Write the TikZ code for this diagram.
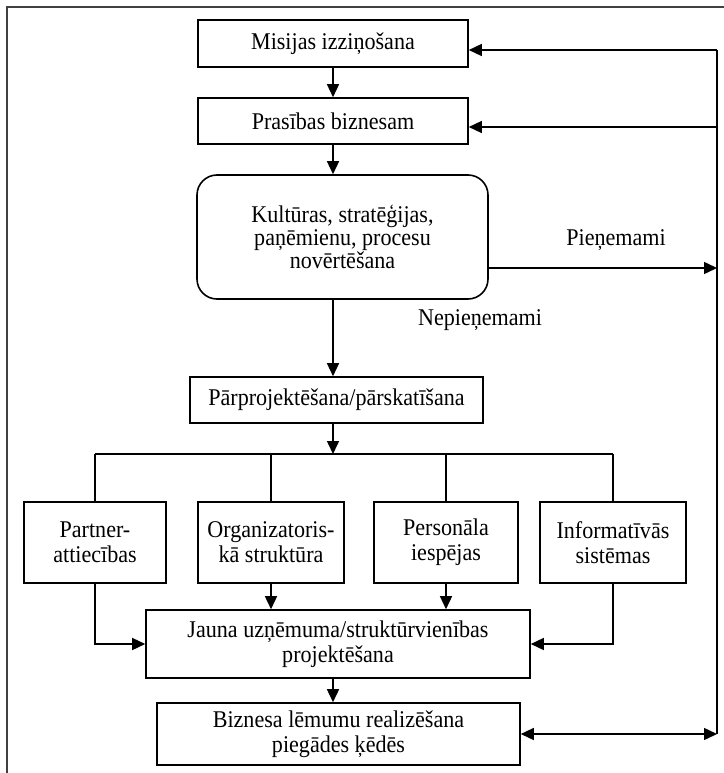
\documentclass[tikz,border=0pt]{standalone}
\usepackage{fontspec}
\setmainfont{Liberation Serif}[FakeStretch=0.92]
\usetikzlibrary{arrows.meta,positioning,calc}
\tikzset{
  box/.style={draw, line width=1.6pt, align=center, font=\fontsize{24}{25}\selectfont, inner sep=2pt, fill=white},
  rbox/.style={box, rounded corners=20pt, font=\fontsize{24}{23}\selectfont},
  wire/.style={line width=1.5pt},
  arr/.style={wire, -{Triangle[length=13pt,width=12pt]}},
  darr/.style={wire, {Triangle[length=13pt,width=12pt]}-{Triangle[length=13pt,width=12pt]}},
  note/.style={font=\fontsize{24}{23}\selectfont, align=center}}

\begin{document}
\begin{tikzpicture}[x=1pt, y=-1pt]
  \useasboundingbox (0,0) rectangle (723,773);
  % page frame, only left and top edges show
  \draw[line width=1.8pt, black!75] (7,790) -- (7,7) -- (740,7);

  % main column
  \node[box, minimum width=270, minimum height=47] (misija) at (333,43.5) {Misijas izziņošana};
  \node[box, minimum width=270, minimum height=46] (prasibas) at (333,121) {Prasības biznesam};
  \node[rbox, minimum width=291, minimum height=124] (vertesana) at (342.5,237) {Kultūras, stratēģijas,\\paņēmienu, procesu\\novērtēšana};
  \node[box, minimum width=293, minimum height=46] (parproj) at (336.5,400) {Pārprojektēšana/pārskatīšana};

  % four areas
  \node[box, minimum width=142, minimum height=81] (partner) at (95,542.5) {Partner-\\attiecības};
  \node[box, minimum width=146, minimum height=81] (organiz) at (271,542.5) {Organizatoris-\\kā struktūra};
  \node[box, minimum width=144, minimum height=81] (personals) at (446,542.5) {Personāla\\iespējas};
  \node[box, minimum width=146, minimum height=81] (infosist) at (613,542.5) {Informatīvās\\sistēmas};

  \node[box, minimum width=384, minimum height=68] (jauna) at (338,644) {Jauna uzņēmuma/struktūrvienības\\projektēšana};
  \node[box, minimum width=363, minimum height=62] (realiz) at (338.5,734) {Biznesa lēmumu realizēšana\\piegādes ķēdēs};

  \node[note] (pien) at (616,240) {Pieņemami};
  \node[note] (nepien) at (480,320) {Nepieņemami};

  \coordinate (rail) at (717,0);
  \coordinate (branch) at (333,454);

  % downward flow
  \draw[arr] (misija) -- (prasibas);
  \draw[arr] (prasibas.south) -- (prasibas.south |- vertesana.north);
  \draw[arr] (prasibas.south |- vertesana.south) -- (prasibas.south |- parproj.north);
  \draw[arr] (prasibas.south |- parproj.south) -- (branch);
  \draw[wire] (partner.north |- branch) -- (infosist.north |- branch);
  \foreach \b in {partner,organiz,personals,infosist}
    \draw[wire] (\b.north |- branch) -- (\b.north);
  \draw[arr] (organiz.south) -- (organiz.south |- jauna.north);
  \draw[arr] (personals.south) -- (personals.south |- jauna.north);
  \draw[arr] (partner.south) |- (jauna.west);
  \draw[arr] (infosist.south) |- (jauna.east);
  \draw[arr] (prasibas.south |- jauna.south) -- (prasibas.south |- realiz.north);

  % feedback rail on the right
  \draw[wire] ([yshift=-6.5pt]misija.east -| rail) -- (realiz.east -| rail);
  \draw[arr] ([yshift=-6.5pt]misija.east -| rail) -- ([yshift=-6.5pt]misija.east);
  \draw[arr] ([yshift=-6pt]prasibas.east -| rail) -- ([yshift=-6pt]prasibas.east);
  \draw[arr] ([yshift=-31pt]vertesana.east) -- ([yshift=-31pt]vertesana.east -| rail);
  \draw[darr] (realiz.east) -- (realiz.east -| rail);
\end{tikzpicture}
\end{document}
